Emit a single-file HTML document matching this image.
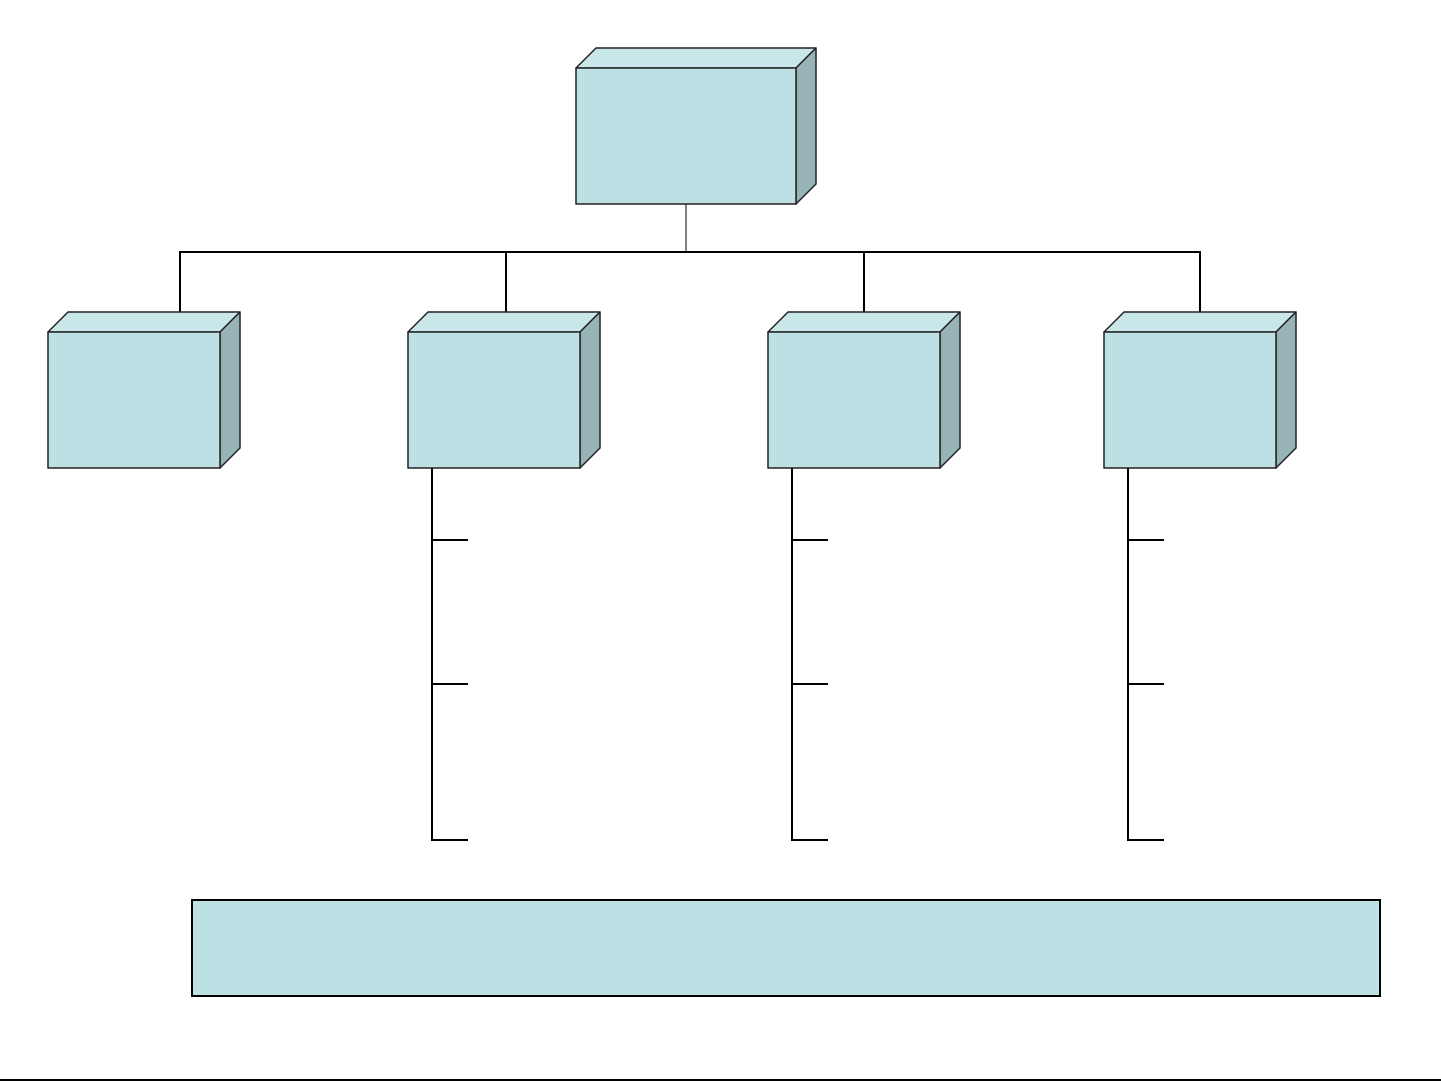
<!DOCTYPE html>
<html><head><meta charset="utf-8"><style>html,body{margin:0;padding:0;background:#fff}svg{display:block}</style></head>
<body>
<svg width="1441" height="1081" viewBox="0 0 1441 1081" xmlns="http://www.w3.org/2000/svg">
<defs>
<g id="b"></g>
</defs>
<g stroke="#000" stroke-width="2" fill="none">
<line x1="686" y1="204" x2="686" y2="252" stroke-width="1"/>
<line x1="179" y1="252" x2="1201" y2="252"/>
<line x1="180" y1="252" x2="180" y2="312"/>
<line x1="506" y1="252" x2="506" y2="312"/>
<line x1="864" y1="252" x2="864" y2="312"/>
<line x1="1200" y1="252" x2="1200" y2="312"/>
<path d="M432 468V840H468M432 540H468M432 684H468"/>
<path d="M792 468V840H828M792 540H828M792 684H828"/>
<path d="M1128 468V840H1164M1128 540H1164M1128 684H1164"/>
</g>
<g stroke="#222" stroke-width="1.5" stroke-linejoin="round">
<!-- top box -->
<polygon points="576,68 596,48 816,48 796,68" fill="#c9e6e9"/>
<polygon points="796,68 816,48 816,184 796,204" fill="#96b4b5"/>
<rect x="576" y="68" width="220" height="136" fill="#bce0e3"/>
<!-- child boxes -->
<polygon points="48,332 68,312 240,312 220,332" fill="#c9e6e9"/>
<polygon points="220,332 240,312 240,448 220,468" fill="#96b4b5"/>
<rect x="48" y="332" width="172" height="136" fill="#bce0e3"/>
<polygon points="408,332 428,312 600,312 580,332" fill="#c9e6e9"/>
<polygon points="580,332 600,312 600,448 580,468" fill="#96b4b5"/>
<rect x="408" y="332" width="172" height="136" fill="#bce0e3"/>
<polygon points="768,332 788,312 960,312 940,332" fill="#c9e6e9"/>
<polygon points="940,332 960,312 960,448 940,468" fill="#96b4b5"/>
<rect x="768" y="332" width="172" height="136" fill="#bce0e3"/>
<polygon points="1104,332 1124,312 1296,312 1276,332" fill="#c9e6e9"/>
<polygon points="1276,332 1296,312 1296,448 1276,468" fill="#96b4b5"/>
<rect x="1104" y="332" width="172" height="136" fill="#bce0e3"/>
</g>
<rect x="192" y="900" width="1188" height="96" fill="#bce0e3" stroke="#000" stroke-width="2"/>
<line x1="0" y1="1080" x2="1441" y2="1080" stroke="#000" stroke-width="2"/>
</svg>
</body></html>
